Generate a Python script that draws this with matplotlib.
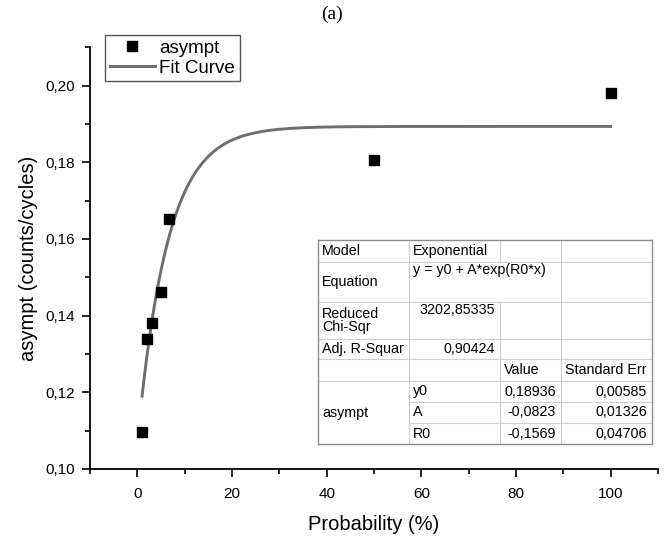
import matplotlib
matplotlib.use("Agg")
import matplotlib.pyplot as plt
import numpy as np
from matplotlib.lines import Line2D
from matplotlib.ticker import MultipleLocator, FuncFormatter

plt.rcParams['font.family'] = ['Liberation Sans', 'DejaVu Sans']

# ---- data ----
prob = [1, 2, 3, 5, 6.7, 50, 100]
asympt = [0.1097, 0.1340, 0.1381, 0.1463, 0.1652, 0.1806, 0.1982]

# fit parameters (as printed in the inset table)
fit_y0 = 0.18936
fit_A = -0.0823
fit_R0 = -0.1569
fit_range = [1, 100]

table_rows = [
    ["Model", "Exponential", "", ""],
    ["Equation", "y = y0 + A*exp(R0*x)", "", ""],
    ["Reduced\nChi-Sqr", "3202,85335", "", ""],
    ["Adj. R-Squar", "0,90424", "", ""],
    ["", "", "Value", "Standard Err"],
    ["asympt", "y0", "0,18936", "0,00585"],
    ["", "A", "-0,0823", "0,01326"],
    ["", "R0", "-0,1569", "0,04706"],
]

W, H = 665, 537
fig = plt.figure(figsize=(W / 100, H / 100), dpi=100)


def fx(px):
    return px / W


def fy(py):
    return 1 - py / H


ax = fig.add_axes([fx(90), fy(469), fx(658) - fx(90), fy(47.3) - fy(469)])

xf = np.linspace(fit_range[0], fit_range[1], 400)
yf = fit_y0 + fit_A * np.exp(fit_R0 * xf)
ax.plot(xf, yf, color='#6e6e6e', lw=2.1, zorder=2)
ax.plot(prob, asympt, ls='none', marker='s', ms=6.8, color='black', zorder=3)

ax.set_xlim(-10, 110)
ax.set_ylim(0.10, 0.21)
ax.xaxis.set_major_locator(MultipleLocator(20))
ax.xaxis.set_minor_locator(MultipleLocator(10))
ax.yaxis.set_major_locator(MultipleLocator(0.02))
ax.yaxis.set_minor_locator(MultipleLocator(0.01))
ax.yaxis.set_major_formatter(FuncFormatter(lambda v, p: f"{v:.2f}".replace('.', ',')))
ax.xaxis.set_major_formatter(FuncFormatter(lambda v, p: f"{v:.0f}"))

for s in ['top', 'right']:
    ax.spines[s].set_visible(False)
for s in ['left', 'bottom']:
    ax.spines[s].set_linewidth(1.3)
ax.tick_params(which='major', direction='out', length=6, width=1.2, labelsize=11, pad=5)
ax.tick_params(axis='x', which='major', pad=7)
ax.tick_params(which='minor', direction='out', length=3.5, width=1.2)

ax.set_xlabel("Probability (%)", fontsize=14.5, labelpad=10)
ax.set_ylabel("asympt (counts/cycles)", fontsize=14.5, labelpad=5)

fig.text(0.5, fy(14), "(a)", family=['Liberation Serif'], fontsize=14, ha='center', va='center')

handles = [Line2D([], [], ls='none', marker='s', ms=6.8, color='black'),
           Line2D([], [], color='#6e6e6e', lw=2.1)]
leg = fig.legend(handles, ["asympt", "Fit Curve"], loc='upper left',
                 bbox_to_anchor=(fx(105), fy(35)), bbox_transform=fig.transFigure,
                 borderaxespad=0, fancybox=False, framealpha=1, edgecolor='#555555',
                 fontsize=13.5, handlelength=2.4, handletextpad=0.25, borderpad=0.25,
                 labelspacing=0.15)
leg.get_frame().set_linewidth(1.0)

# ---- inset table ----
rows_y = [240, 262, 302, 339, 359, 381, 402, 423, 444]
cols_x = [318, 409, 500, 561, 652]
inner = '#cfcfcf'
outer = '#8c8c8c'


def hline(y, x0, x1, c=inner, lw=0.8):
    fig.add_artist(Line2D([fx(x0), fx(x1)], [fy(y), fy(y)], color=c, lw=lw))


def vline(x, y0, y1, c=inner, lw=0.8):
    fig.add_artist(Line2D([fx(x), fx(x)], [fy(y0), fy(y1)], color=c, lw=lw))


for i in range(1, 6):
    hline(rows_y[i], cols_x[0], cols_x[4])
for i in (6, 7):
    hline(rows_y[i], cols_x[1], cols_x[4])
vline(cols_x[1], rows_y[0], rows_y[8])
vline(cols_x[2], rows_y[0], rows_y[1])
vline(cols_x[2], rows_y[2], rows_y[8])
vline(cols_x[3], rows_y[0], rows_y[8])
hline(rows_y[0], cols_x[0], cols_x[4], outer, 1.0)
hline(rows_y[8], cols_x[0], cols_x[4], outer, 1.0)
vline(cols_x[0], rows_y[0], rows_y[8], outer, 1.0)
vline(cols_x[4], rows_y[0], rows_y[8], outer, 1.0)

tfs = 10.3
for r, row in enumerate(table_rows):
    yc = (rows_y[r] + rows_y[r + 1]) / 2
    for c, txt in enumerate(row):
        if not txt:
            continue
        y = yc
        va = 'center'
        if r == 5 and c == 0:
            y = (rows_y[5] + rows_y[8]) / 2
        if r in (1, 2) and c == 1:
            y = rows_y[r] + 1
            va = 'top'
        if c == 0 or (c == 1 and r in (0, 1, 5, 6, 7)) or (r == 4):
            x = cols_x[c] + 4
            ha = 'left'
        else:
            x = cols_x[c + 1] - 5
            ha = 'right'
        fig.text(fx(x), fy(y), txt, fontsize=tfs, ha=ha, va=va, linespacing=1.0)

fig.savefig("out.png", dpi=100)
